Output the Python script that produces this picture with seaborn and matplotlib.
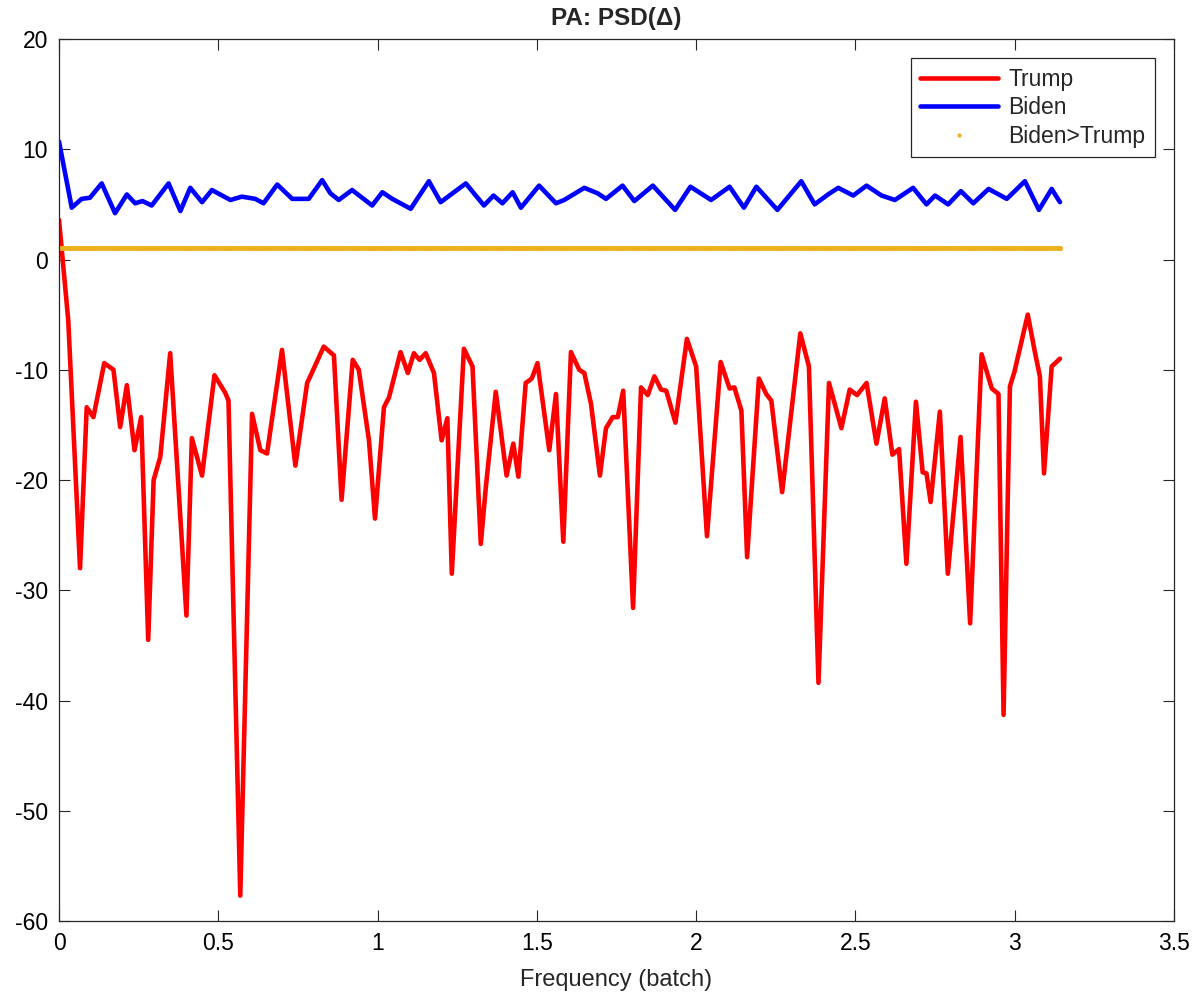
import matplotlib
matplotlib.use("Agg")
import matplotlib.pyplot as plt
from matplotlib.lines import Line2D
import seaborn as sns
import numpy as np

# --- data (frequency in rad/batch, PSD in dB) ---
trump_x = [0.000, 0.029, 0.066, 0.087, 0.108, 0.142, 0.171, 0.192, 0.213, 0.237,
           0.258, 0.280, 0.297, 0.318, 0.349, 0.400, 0.417, 0.449, 0.488, 0.522,
           0.532, 0.569, 0.606, 0.632, 0.653, 0.700, 0.742, 0.779, 0.795, 0.831,
           0.863, 0.887, 0.922, 0.941, 0.973, 0.992, 1.020, 1.036, 1.072, 1.095,
           1.114, 1.132, 1.151, 1.177, 1.201, 1.219, 1.233, 1.271, 1.298, 1.324,
           1.340, 1.371, 1.405, 1.426, 1.442, 1.465, 1.484, 1.502, 1.539, 1.560,
           1.583, 1.607, 1.633, 1.649, 1.670, 1.698, 1.717, 1.738, 1.754, 1.771,
           1.802, 1.827, 1.848, 1.869, 1.890, 1.906, 1.935, 1.971, 2.000, 2.034,
           2.077, 2.105, 2.120, 2.142, 2.160, 2.197, 2.220, 2.236, 2.270, 2.327,
           2.354, 2.384, 2.417, 2.456, 2.482, 2.505, 2.535, 2.566, 2.592, 2.616,
           2.637, 2.660, 2.690, 2.711, 2.723, 2.736, 2.765, 2.790, 2.830, 2.860,
           2.896, 2.928, 2.949, 2.965, 2.985, 2.999, 3.041, 3.062, 3.079, 3.092,
           3.116, 3.142]
trump_psd = [3.6, -5.5, -28.0, -13.4, -14.3, -9.4, -10.0, -15.2, -11.4, -17.3,
             -14.3, -34.5, -20.0, -17.9, -8.5, -32.3, -16.2, -19.6, -10.5, -12.1,
             -12.8, -57.7, -14.0, -17.3, -17.6, -8.2, -18.7, -11.2, -10.2, -7.9,
             -8.7, -21.8, -9.1, -10.0, -16.4, -23.5, -13.4, -12.5, -8.4, -10.3,
             -8.5, -9.1, -8.5, -10.3, -16.4, -14.4, -28.5, -8.1, -9.7, -25.8,
             -20.6, -12.0, -19.6, -16.7, -19.7, -11.2, -10.8, -9.4, -17.3, -12.2,
             -25.6, -8.4, -10.0, -10.3, -13.1, -19.6, -15.3, -14.3, -14.3, -11.9,
             -31.6, -11.6, -12.3, -10.6, -11.8, -11.9, -14.8, -7.2, -9.7, -25.1,
             -9.3, -11.7, -11.6, -13.7, -27.0, -10.8, -12.2, -12.8, -21.1, -6.7,
             -9.7, -38.4, -11.2, -15.3, -11.8, -12.3, -11.2, -16.7, -12.6, -17.7,
             -17.2, -27.6, -12.9, -19.3, -19.4, -22.0, -13.8, -28.5, -16.1, -33.0,
             -8.6, -11.7, -12.2, -41.3, -11.5, -10.2, -5.0, -8.2, -10.6, -19.4,
             -9.7, -9.0]

biden_x = [0.000, 0.040, 0.071, 0.097, 0.134, 0.176, 0.213, 0.239, 0.262, 0.291,
           0.344, 0.381, 0.412, 0.449, 0.480, 0.538, 0.574, 0.616, 0.642, 0.685,
           0.732, 0.784, 0.826, 0.852, 0.878, 0.920, 0.983, 1.015, 1.046, 1.104,
           1.161, 1.198, 1.277, 1.334, 1.364, 1.392, 1.424, 1.450, 1.507, 1.560,
           1.586, 1.649, 1.691, 1.717, 1.769, 1.806, 1.864, 1.934, 1.982, 2.047,
           2.105, 2.150, 2.189, 2.255, 2.330, 2.372, 2.414, 2.446, 2.493, 2.535,
           2.582, 2.624, 2.681, 2.723, 2.750, 2.791, 2.831, 2.870, 2.918, 2.975,
           3.032, 3.076, 3.116, 3.142]
biden_psd = [10.7, 4.7, 5.5, 5.6, 6.9, 4.2, 5.9, 5.1, 5.3, 4.9,
             6.9, 4.4, 6.5, 5.2, 6.3, 5.4, 5.7, 5.5, 5.1, 6.8,
             5.5, 5.5, 7.2, 6.0, 5.4, 6.3, 4.9, 6.1, 5.5, 4.6,
             7.1, 5.2, 6.9, 4.9, 5.8, 5.1, 6.1, 4.7, 6.7, 5.1,
             5.4, 6.5, 6.0, 5.5, 6.7, 5.3, 6.7, 4.5, 6.6, 5.4,
             6.6, 4.7, 6.6, 4.5, 7.1, 5.0, 5.9, 6.5, 5.8, 6.7,
             5.8, 5.4, 6.5, 5.0, 5.8, 5.0, 6.2, 5.1, 6.4, 5.5,
             7.1, 4.5, 6.4, 5.2]

# Biden>Trump indicator, evaluated at every sampled frequency
freqs = sorted(set(trump_x) | set(biden_x))
biden_wins = [1.0 if np.interp(f, biden_x, biden_psd) > np.interp(f, trump_x, trump_psd) else np.nan
              for f in freqs]

xticks = [0, 0.5, 1, 1.5, 2, 2.5, 3, 3.5]
xtick_labels = ["0", "0.5", "1", "1.5", "2", "2.5", "3", "3.5"]
yticks = [-60, -50, -40, -30, -20, -10, 0, 10, 20]

RED, BLUE, GOLD = '#FF0000', '#0000FF', '#EDB120'

# --- style ---
sns.set_style("ticks")
plt.rcParams['font.family'] = ['Liberation Sans', 'DejaVu Sans']
plt.rcParams['axes.unicode_minus'] = False

fig = plt.figure(figsize=(12.04, 9.97), dpi=100)
ax = fig.add_axes([59 / 1204, 1 - 921 / 997, (1174 - 59) / 1204, (921 - 39) / 997])

sns.lineplot(x=trump_x, y=trump_psd, ax=ax, color=RED, lw=3.3,
             sort=False, estimator=None)
sns.lineplot(x=biden_x, y=biden_psd, ax=ax, color=BLUE, lw=3.3,
             sort=False, estimator=None)
# dense dots at every frequency -> drawn as a solid band
sns.lineplot(x=freqs, y=biden_wins, ax=ax, color=GOLD, lw=3.5, marker='o',
             markersize=3.5, markeredgewidth=0, sort=False, estimator=None)
for ln in ax.lines:
    ln.set_solid_joinstyle('round')

ax.set_xlim(0, 3.5)
ax.set_ylim(-60, 20)
ax.set_xticks(xticks)
ax.set_xticklabels(xtick_labels)
ax.set_yticks(yticks)
ax.tick_params(direction='in', length=8, width=0.8, colors='#262626',
               labelcolor='black', labelsize=16.5, top=True, right=True)
ax.tick_params(axis='x', pad=8)
ax.tick_params(axis='y', pad=8)
for spine in ax.spines.values():
    spine.set_visible(True)
    spine.set_color('#262626')
    spine.set_linewidth(0.9)

ax.set_xlabel('Frequency (batch)', fontsize=17, color='#262626', labelpad=10)
ax.set_ylabel('')
ax.set_title('PA: PSD(Δ)', fontsize=17.5, fontweight='bold', pad=10)

handles = [Line2D([], [], color=RED, lw=3.3),
           Line2D([], [], color=BLUE, lw=3.3),
           Line2D([], [], color=GOLD, ls='none', marker='o', markersize=3,
                  markeredgewidth=0)]
leg = ax.legend(handles, ['Trump', 'Biden', 'Biden>Trump'], loc='upper right',
                fontsize=16.5, frameon=True, fancybox=False, framealpha=1,
                edgecolor='#262626', handlelength=3.4, handletextpad=0.45,
                labelspacing=0.25, borderaxespad=0.85, borderpad=0.4)
leg.get_frame().set_linewidth(0.9)

fig.savefig('out.png', dpi=100)
